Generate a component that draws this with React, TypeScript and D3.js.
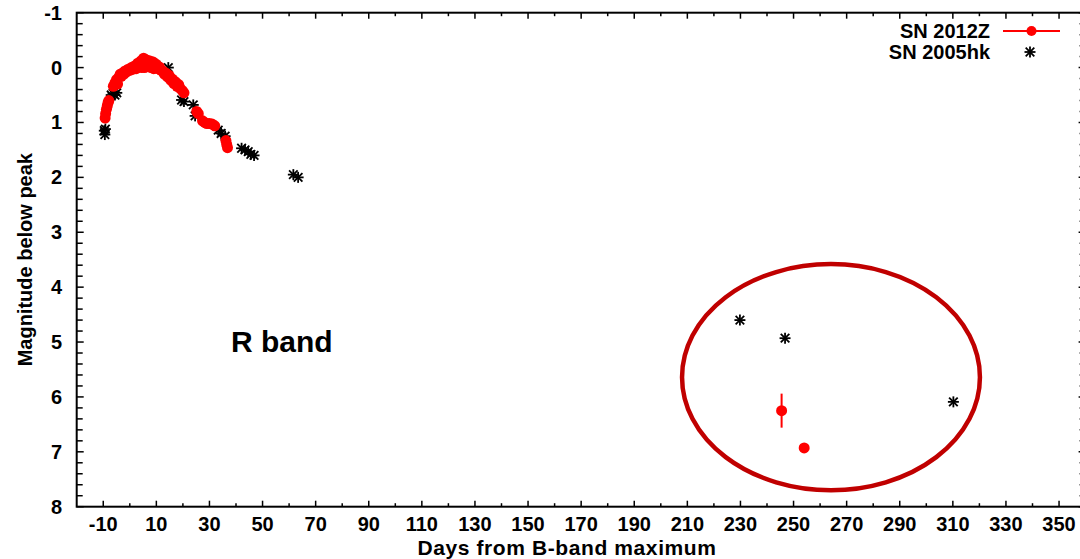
import React from "react";
import * as d3 from "d3";

// SN 2012Z, R band: days from B maximum, magnitude below peak, error
const sn2012zDays = [
  -9.3, -9.1, -8.8, -8.5, -8.2, -7.9, -6.2, -5.6, -5.0, -4.6, -4.2, -3.6, -3.2, -2.8,
  -2.2, -1.8, -1.2, -0.6, 0.0, 0.6, 1.2, 1.8, 2.4, 3.0, 3.6, 4.2, 4.4, 4.8, 5.2, 5.6,
  5.8, 6.4, 6.8, 7.0, 7.6, 8.0, 8.2, 8.8, 9.0, 9.4, 10.0, 10.6, 11.2, 11.8, 12.4, 13.0,
  13.6, 14.2, 14.8, 15.4, 16.0, 16.6, 17.2, 17.8, 18.4, 19.0, 19.8, 20.4, 25.2, 25.8,
  27.4, 28.2, 29.0, 30.0, 31.0, 32.0, 36.2, 36.5, 36.8, 245.5, 254.0,
];
const sn2012zMag = [
  0.92, 0.84, 0.76, 0.7, 0.64, 0.6, 0.34, 0.28, 0.22, 0.3, 0.18, 0.12, 0.16, 0.1, 0.12,
  0.06, 0.08, 0.03, 0.05, 0.0, 0.03, -0.03, 0.02, -0.08, -0.02, -0.12, 0.0, -0.08,
  -0.17, 0.0, -0.1, -0.14, -0.02, -0.08, -0.12, 0.0, -0.06, -0.1, 0.02, -0.04, -0.06,
  0.02, -0.01, 0.05, 0.06, 0.12, 0.1, 0.17, 0.14, 0.23, 0.21, 0.29, 0.26, 0.34, 0.31,
  0.38, 0.42, 0.46, 0.8, 0.84, 0.97, 1.0, 1.02, 1.02, 1.03, 1.06, 1.33, 1.4, 1.46, 6.25,
  6.93,
];
const sn2012zErr = [
  0, 0, 0, 0, 0, 0, 0, 0, 0, 0, 0, 0, 0, 0, 0, 0, 0, 0, 0, 0, 0, 0, 0, 0, 0, 0, 0, 0,
  0, 0, 0, 0, 0, 0, 0, 0, 0, 0, 0, 0, 0, 0, 0, 0, 0, 0, 0, 0, 0, 0, 0, 0, 0, 0, 0, 0,
  0, 0, 0, 0, 0, 0, 0, 0, 0, 0, 0, 0, 0, 0.31, 0.05,
];

// SN 2005hk, R band
const sn2005hkDays = [
  -9.6, -9.4, -9.2, -7.0, -6.3, -5.6, -4.9, 14.5, 19.5, 20.4, 23.9, 24.6, 33.3, 34.4,
  35.9, 42.1, 43.4, 44.6, 45.6, 46.8, 61.6, 63.4, 229.8, 246.8, 310.2,
];
const sn2005hkMag = [
  1.15, 1.22, 1.12, 0.5, 0.47, 0.5, 0.46, 0.0, 0.59, 0.62, 0.68, 0.88, 1.14, 1.2, 1.25,
  1.47, 1.5, 1.53, 1.58, 1.6, 1.95, 2.0, 4.6, 4.93, 6.09,
];

const xMajorTicks = d3.range(-10, 351, 20);
const xMinorTicks = d3.range(0, 341, 20);
const yMajorTicks = d3.range(-1, 9, 1);
const yMinorTicks = d3.range(-1, 8.001, 0.2).filter((v) => Math.abs(v - Math.round(v)) > 1e-6);

const legendLabels = ["SN 2012Z", "SN 2005hk"];
const bandLabel = "R band";
const xTitle = "Days from B-band maximum";
const yTitle = "Magnitude below peak";

// highlighted late-time region (centre day, centre mag, half-width days, half-height mag)
const lateRegion = [264.1, 5.64, 56.1, 2.06];

const W = 1080;
const H = 559;
const left = 76.7;
const right = 1085.6;
const top = 12.7;
const bottom = 506.7;

const FONT = "'Liberation Sans', Arial, Helvetica, sans-serif";

function Star({ cx, cy, r }: { cx: number; cy: number; r: number }) {
  const d = r * 0.78;
  return (
    <g stroke="#000" strokeWidth={1.8}>
      <line x1={cx - r} y1={cy} x2={cx + r} y2={cy} />
      <line x1={cx} y1={cy - r} x2={cx} y2={cy + r} />
      <line x1={cx - d} y1={cy - d} x2={cx + d} y2={cy + d} />
      <line x1={cx - d} y1={cy + d} x2={cx + d} y2={cy - d} />
    </g>
  );
}

export default function App() {
  const x = d3.scaleLinear().domain([-20, 360]).range([left, right]);
  const y = d3.scaleLinear().domain([-1, 8]).range([top, bottom]);

  const red = "#ff0000";
  const majorLen = 6;
  const minorLen = 3.5;

  const [ecx, ecy, erx, ery] = lateRegion;

  return (
    <svg
      width={W}
      height={H}
      style={{ position: "absolute", left: 0, top: 0, background: "#fff" }}
      fontFamily={FONT}
      fontWeight="bold"
    >
      <rect x={0} y={0} width={W} height={H} fill="#fff" />

      {/* ticks, mirrored on all four sides */}
      <g stroke="#000" strokeWidth={1.5}>
        {xMajorTicks.map((t) => (
          <g key={"xM" + t}>
            <line x1={x(t)} x2={x(t)} y1={bottom} y2={bottom - majorLen} />
            <line x1={x(t)} x2={x(t)} y1={top} y2={top + majorLen} />
          </g>
        ))}
        {xMinorTicks.map((t) => (
          <g key={"xm" + t}>
            <line x1={x(t)} x2={x(t)} y1={bottom} y2={bottom - minorLen} />
            <line x1={x(t)} x2={x(t)} y1={top} y2={top + minorLen} />
          </g>
        ))}
        {yMajorTicks.map((t) => (
          <g key={"yM" + t}>
            <line x1={left} x2={left + majorLen + 1} y1={y(t)} y2={y(t)} />
            <line x1={right} x2={right - majorLen - 1} y1={y(t)} y2={y(t)} />
          </g>
        ))}
        {yMinorTicks.map((t) => (
          <g key={"ym" + t.toFixed(1)}>
            <line x1={left} x2={left + majorLen} y1={y(t)} y2={y(t)} />
            <line x1={right} x2={right - majorLen} y1={y(t)} y2={y(t)} />
          </g>
        ))}
      </g>

      <rect
        x={left}
        y={top}
        width={right - left}
        height={bottom - top}
        fill="none"
        stroke="#000"
        strokeWidth={2}
      />

      {/* tick labels */}
      <g fontSize={20} fill="#000">
        {xMajorTicks.map((t) => (
          <text key={"xl" + t} x={x(t)} y={531} textAnchor="middle">
            {t}
          </text>
        ))}
        {yMajorTicks.map((t) => (
          <text key={"yl" + t} x={62} y={y(t) + 7} textAnchor="end">
            {t}
          </text>
        ))}
      </g>

      {/* axis titles */}
      <text x={567} y={555} textAnchor="middle" fontSize={21} letterSpacing={0.6} fill="#000">
        {xTitle}
      </text>
      <text
        transform={`translate(32, ${(top + bottom) / 2}) rotate(-90)`}
        textAnchor="middle"
        fontSize={20}
        fill="#000"
      >
        {yTitle}
      </text>

      <text x={231} y={352} fontSize={30} fill="#000">
        {bandLabel}
      </text>

      {/* SN 2005hk */}
      <g>
        {sn2005hkDays.map((d, i) => (
          <Star key={"s" + i} cx={x(d)} cy={y(sn2005hkMag[i])} r={5.5} />
        ))}
      </g>

      {/* SN 2012Z */}
      <g>
        {sn2012zDays.map((d, i) =>
          sn2012zErr[i] > 0 ? (
            <line
              key={"e" + i}
              x1={x(d)}
              x2={x(d)}
              y1={y(sn2012zMag[i] - sn2012zErr[i])}
              y2={y(sn2012zMag[i] + sn2012zErr[i])}
              stroke={red}
              strokeWidth={2}
            />
          ) : null
        )}
        {sn2012zDays.map((d, i) => (
          <circle key={"r" + i} cx={x(d)} cy={y(sn2012zMag[i])} r={5.5} fill={red} />
        ))}
      </g>

      {/* legend */}
      <g fontSize={20} fill="#000">
        <text x={990} y={38} textAnchor="end">
          {legendLabels[0]}
        </text>
        <text x={990} y={58.5} textAnchor="end">
          {legendLabels[1]}
        </text>
        <line x1={1003} x2={1060} y1={31} y2={31} stroke={red} strokeWidth={2} />
        <circle cx={1031.5} cy={31} r={5} fill={red} />
        <Star cx={1030} cy={52} r={5.5} />
      </g>

      {/* late-time region marker */}
      <ellipse
        cx={x(ecx)}
        cy={y(ecy)}
        rx={x(ecx + erx) - x(ecx)}
        ry={y(ecy + ery) - y(ecy)}
        fill="none"
        stroke="#c00000"
        strokeWidth={4.5}
      />
    </svg>
  );
}
